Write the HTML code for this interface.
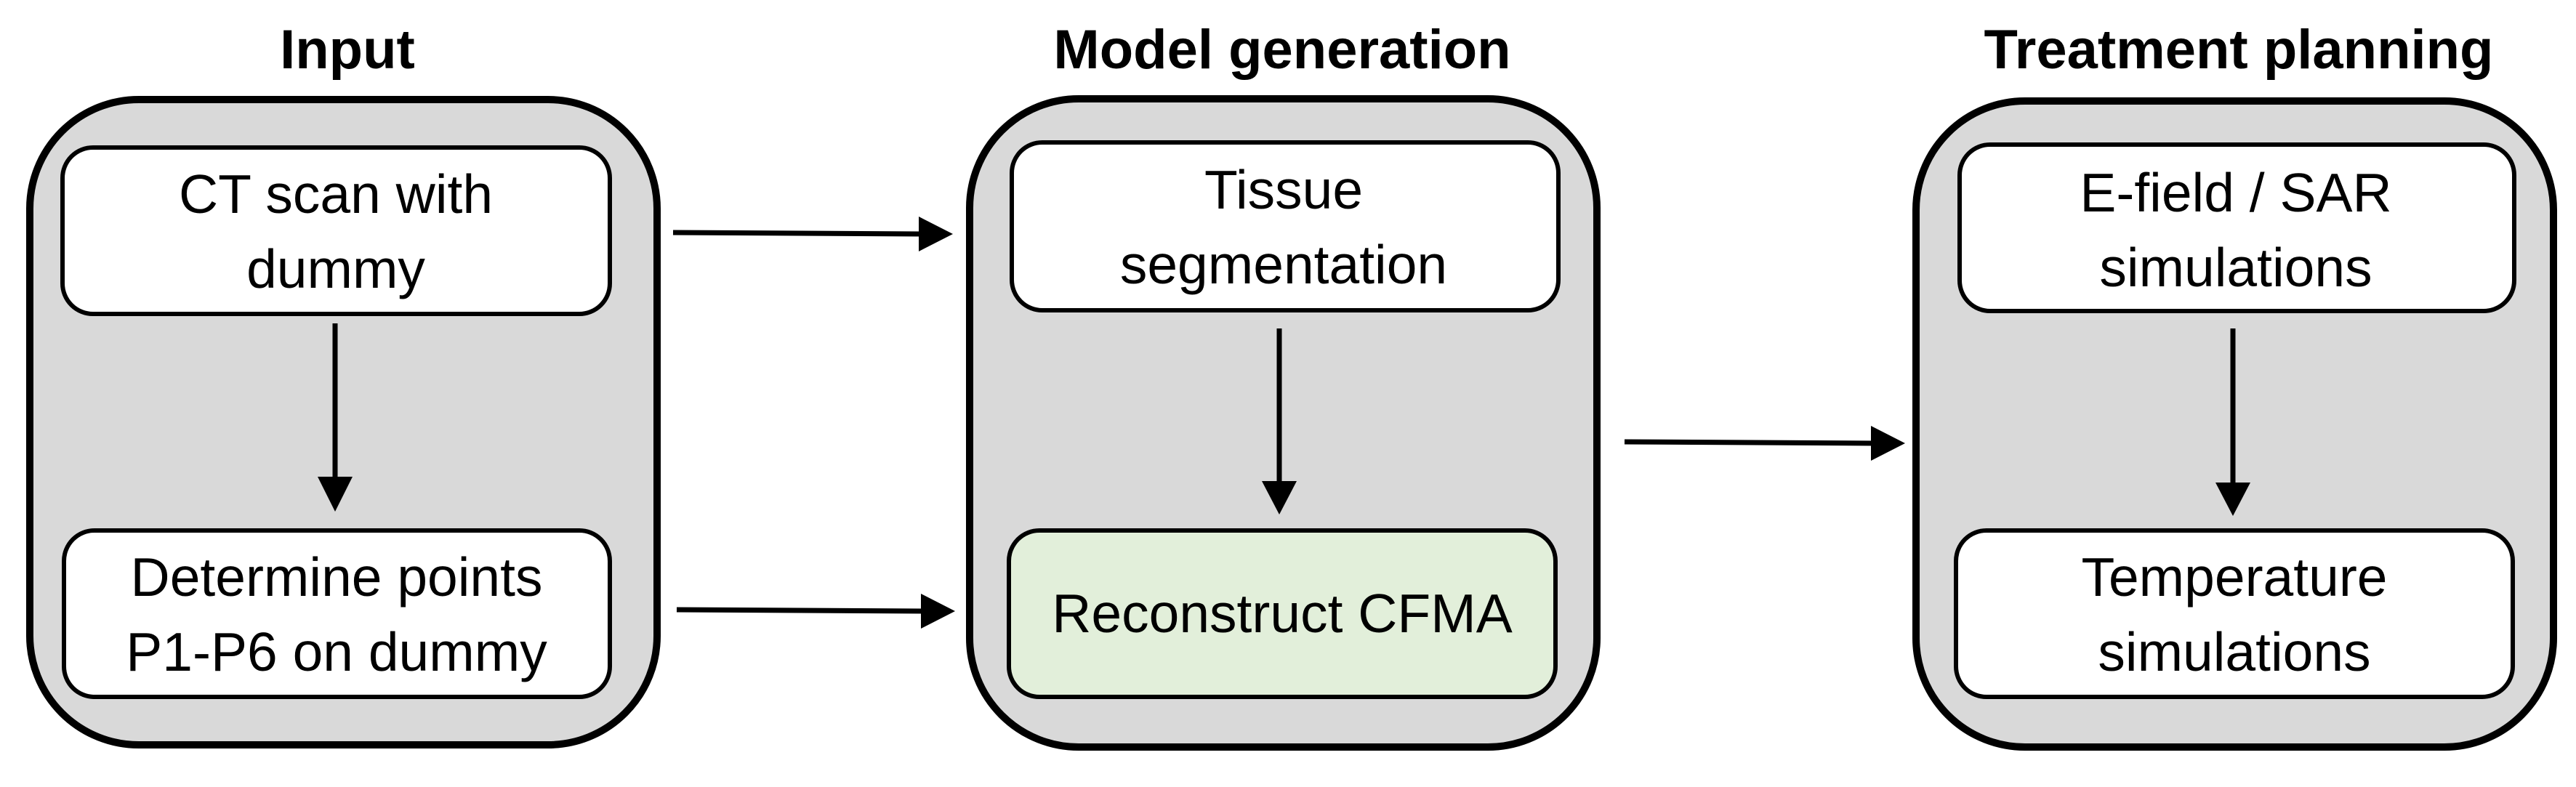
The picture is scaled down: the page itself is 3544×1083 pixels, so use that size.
<!DOCTYPE html>
<html><head><meta charset="utf-8"><style>
html,body{margin:0;padding:0;background:#fff;}
svg{display:block;}
text{font-family:"Liberation Sans",sans-serif;fill:#000;}
.t{font-size:75px;text-anchor:middle;}
.h{font-size:76px;font-weight:bold;text-anchor:middle;}
</style></head><body>
<svg width="3544" height="1083" viewBox="0 0 3544 1083" xmlns="http://www.w3.org/2000/svg">
<text class="h" x="478" y="94">Input</text>
<text class="h" x="1764" y="94">Model generation</text>
<text class="h" x="3080" y="94">Treatment planning</text>

<rect x="41" y="137" width="863" height="888" rx="150" fill="#d9d9d9" stroke="#000" stroke-width="10"/>
<rect x="1334" y="136" width="863" height="892" rx="150" fill="#d9d9d9" stroke="#000" stroke-width="10"/>
<rect x="2636" y="139" width="877" height="889" rx="150" fill="#d9d9d9" stroke="#000" stroke-width="10"/>

<rect x="86" y="203" width="753" height="229" rx="42" fill="#fff" stroke="#000" stroke-width="6"/>
<rect x="88" y="730" width="751" height="229" rx="42" fill="#fff" stroke="#000" stroke-width="6"/>
<rect x="1392" y="196" width="752" height="231" rx="42" fill="#fff" stroke="#000" stroke-width="6"/>
<rect x="1388" y="730" width="752" height="229" rx="42" fill="#e2efda" stroke="#000" stroke-width="6"/>
<rect x="2696" y="199" width="763" height="229" rx="42" fill="#fff" stroke="#000" stroke-width="6"/>
<rect x="2691" y="730" width="766" height="229" rx="42" fill="#fff" stroke="#000" stroke-width="6"/>

<text class="t" x="462" y="293">CT scan with</text>
<text class="t" x="462" y="396">dummy</text>
<text class="t" x="463" y="820">Determine points</text>
<text class="t" x="463" y="923">P1-P6 on dummy</text>
<text class="t" x="1766" y="287">Tissue</text>
<text class="t" x="1766" y="390">segmentation</text>
<text class="t" x="1764" y="870">Reconstruct CFMA</text>
<text class="t" x="3076" y="291">E-field / SAR</text>
<text class="t" x="3076" y="394">simulations</text>
<text class="t" x="3074" y="820">Temperature</text>
<text class="t" x="3074" y="923">simulations</text>

<g stroke="#000" stroke-width="7" fill="none">
<line x1="461" y1="445" x2="461" y2="660"/>
<line x1="1760" y1="452" x2="1760" y2="664"/>
<line x1="3072" y1="452" x2="3072" y2="666"/>
<line x1="926" y1="320" x2="1268" y2="322"/>
<line x1="931" y1="839" x2="1272" y2="841"/>
<line x1="2235" y1="608" x2="2578" y2="610"/>
</g>
<g fill="#000">
<polygon points="437,656 485,656 461,704"/>
<polygon points="1736,662 1784,662 1760,708"/>
<polygon points="3048,664 3096,664 3072,710"/>
<polygon points="1264,298 1264,346 1311,322"/>
<polygon points="1267,817 1267,865 1314,841"/>
<polygon points="2574,586 2574,634 2621,610"/>
</g>
</svg>
</body></html>
